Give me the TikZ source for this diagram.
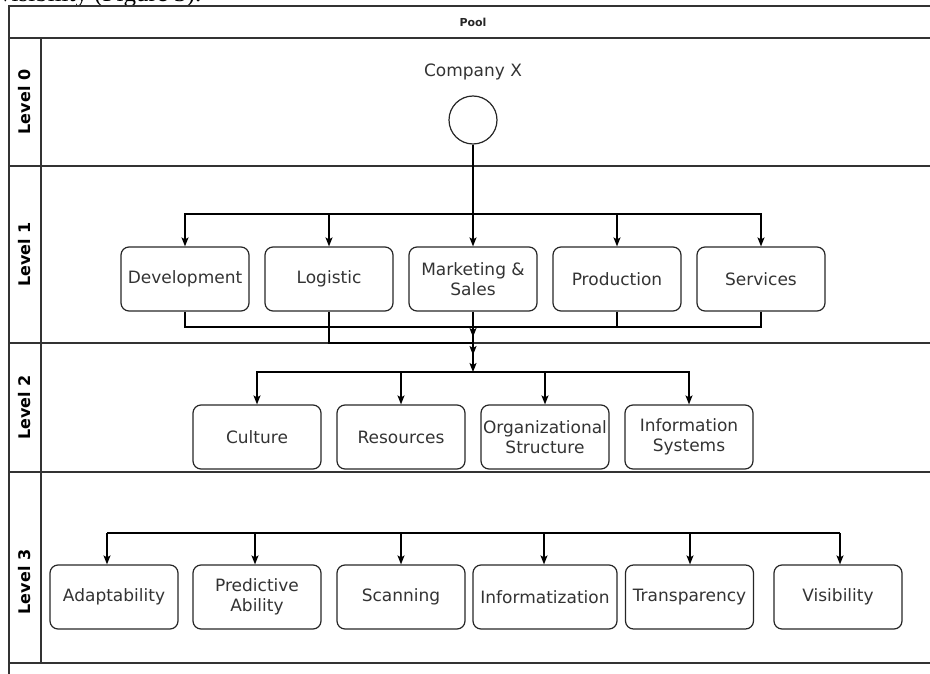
\documentclass[tikz,border=0pt]{standalone}
\usepackage{fontspec}
\setmainfont{DejaVu Sans}
\newfontfamily\serifdoc{Liberation Serif}
\usetikzlibrary{arrows.meta}
\begin{document}
\begin{tikzpicture}[x=1pt,y=-1pt,
 box/.style={draw=black!85, line width=1.2pt, rounded corners=8pt, minimum width=128pt, minimum height=64pt, inner sep=0pt, align=center, font=\fontsize{17}{20}\selectfont, text=black!80},
 lane/.style={draw=black!80, line width=1.4pt},
 conn/.style={draw=black, line width=1.2pt},
 arr/.style={conn, -{Stealth[length=9pt,width=7pt,inset=2pt]}},
 lanelabel/.style={rotate=90, font=\bfseries\fontsize{16}{19}\selectfont},
]
\useasboundingbox (0,0) rectangle (930,674);
\clip (0,0) rectangle (930,674);
% cut-off caption text at the very top
\node[anchor=base west, inner sep=0pt, font=\serifdoc\fontsize{25}{27}\selectfont] (cap) at (-1,1.5) {visibility (Figure 3).};
% pool and lanes
\draw[lane] (9,690) -- (9,6) -- (940,6);
\draw[lane] (9,38) -- (940,38);
\draw[lane] (41,38) -- (41,663);
\draw[lane] (9,166) -- (940,166);
\draw[lane] (9,343) -- (940,343);
\draw[lane] (9,472) -- (940,472);
\draw[lane] (9,663) -- (940,663);
\node[font=\bfseries\fontsize{11}{13}\selectfont, text=black!85] (pool) at (473,22) {Pool};
\node[lanelabel] (l0) at (25,102) {Level 0};
\node[lanelabel] (l1) at (25,254.5) {Level 1};
\node[lanelabel] (l2) at (25,407.5) {Level 2};
\node[lanelabel] (l3) at (25,582) {Level 3};
% level 0
\node[font=\fontsize{17}{20}\selectfont, text=black!80] (cxl) at (473,72) {Company X};
\node[circle, draw=black!85, line width=1.2pt, minimum size=48pt, inner sep=0pt] (cx) at (473,120) {};
% level 1
\node[box] (dev) at (185,279) {Development};
\node[box] (log) at (329,279) {Logistic};
\node[box] (mkt) at (473,279) {Marketing \&\\Sales};
\node[box] (prod) at (617,279) {Production};
\node[box] (serv) at (761,279) {Services};
% level 2
\node[box] (cul) at (257,437) {Culture};
\node[box] (res) at (401,437) {Resources};
\node[box] (org) at (545,437) {Organizational\\Structure};
\node[box] (inf) at (689,437) {Information\\Systems};
% level 3
\node[box] (ada) at (114,597) {Adaptability};
\node[box] (pred) at (257,597) {Predictive\\Ability};
\node[box] (scan) at (401,597) {Scanning};
\node[box, minimum width=144pt] (infz) at (545,597) {Informatization};
\node[box] (trans) at (689.5,597) {Transparency};
\node[box] (vis) at (838,597) {Visibility};
% connectors level 0 -> level 1
\coordinate (j1) at (473,214);
\draw[conn] (cx.south) -- (j1);
\draw[arr] (j1) -| (dev.north);
\draw[arr] (j1) -| (log.north);
\draw[arr] (j1) -- (mkt.north);
\draw[arr] (j1) -| (prod.north);
\draw[arr] (j1) -| (serv.north);
% connectors level 1 -> level 2
\coordinate (a1) at (473,337);
\coordinate (a2) at (473,355);
\coordinate (j2) at (473,372);
\coordinate (b1) at (473,327);
\coordinate (b2) at (473,343);
\draw[arr] (mkt.south) -- (a1);
\draw[conn] (dev.south) |- (b1);
\draw[conn] (prod.south) |- (b1);
\draw[arr] (serv.south) |- (b1) -- (a2);
\draw[arr] (log.south) |- (b2) -- (j2);
\draw[arr] (j2) -| (cul.north);
\draw[arr] (j2) -| (res.north);
\draw[arr] (j2) -| (org.north);
\draw[arr] (j2) -| (inf.north);
% connectors level 3
\coordinate (c1) at (107,533);
\coordinate (c2) at (255,533);
\coordinate (c3) at (401,533);
\coordinate (c4) at (544,533);
\coordinate (c5) at (690,533);
\coordinate (c6) at (840,533);
\draw[conn] (c1) -- (c6);
\draw[arr] (c1) -- (c1 |- ada.north);
\draw[arr] (c2) -- (c2 |- pred.north);
\draw[arr] (c3) -- (c3 |- scan.north);
\draw[arr] (c4) -- (c4 |- infz.north);
\draw[arr] (c5) -- (c5 |- trans.north);
\draw[arr] (c6) -- (c6 |- vis.north);
\end{tikzpicture}
\end{document}
